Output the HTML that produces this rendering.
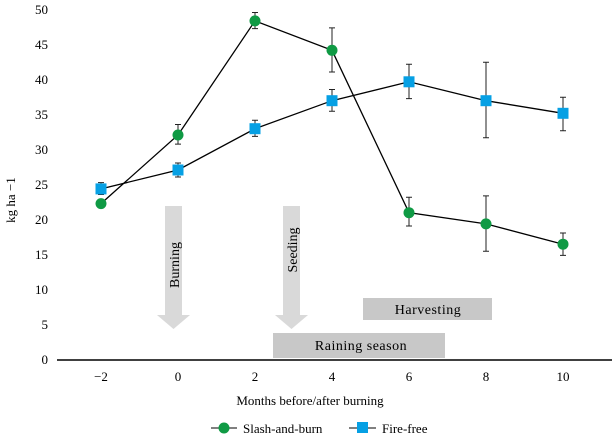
<!DOCTYPE html>
<html><head><meta charset="utf-8"><style>
body{margin:0;background:#fff}
svg{display:block;font-family:"Liberation Serif",serif}
</style></head><body>
<svg width="612" height="435" viewBox="0 0 612 435">
<g>
<polygon fill="#d9d9d9" points="165,206 182,206 182,315 190,315 173.5,329 157,315 165,315"/>
<text transform="translate(179,265) rotate(-90)" text-anchor="middle" font-size="14">Burning</text>
<polygon fill="#d9d9d9" points="283,206 300,206 300,315 308,315 291.5,329 275,315 283,315"/>
<text transform="translate(297,250) rotate(-90)" text-anchor="middle" font-size="14">Seeding</text>
<rect x="273" y="333" width="172" height="25" fill="#c8c8c8"/>
<text x="361" y="350" text-anchor="middle" font-size="14" letter-spacing="0.5">Raining season</text>
<rect x="363" y="298" width="129" height="22" fill="#c8c8c8"/>
<text x="428" y="314" text-anchor="middle" font-size="14" letter-spacing="0.5">Harvesting</text>
</g>
<g id="axes"></g>
<g id="plot"></g>
<text x="310" y="405" text-anchor="middle" font-size="13">Months before/after burning</text>
<text transform="translate(15,200) rotate(-90)" text-anchor="middle" font-size="13">kg ha <tspan>−1</tspan></text>
<g>
<line x1="211" y1="428" x2="237" y2="428" stroke="#000"/>
<circle cx="224" cy="428" r="5.5" fill="#0f9a44"/>
<text x="243" y="433" font-size="13">Slash-and-burn</text>
<line x1="349" y1="428" x2="376" y2="428" stroke="#000"/>
<rect x="357" y="422" width="11" height="11" fill="#06a0e4"/>
<text x="382" y="433" font-size="13">Fire-free</text>
</g>
</svg>
<script>
const months=[-2,0,2,4,6,8,10];
const slashVals=[22.2,32,48.3,44.1,20.9,19.3,16.4];
const slashLo=[22.2,30.7,47.2,41,19,15.4,14.8];
const slashHi=[22.2,33.5,49.5,47.3,23.1,23.3,18];
const fireVals=[24.3,27,32.9,36.9,39.6,36.9,35.1];
const fireLo=[23.5,26,31.8,35.4,37.2,31.6,32.6];
const fireHi=[25.2,28,34.1,38.5,42.1,42.4,37.4];
const yTicks=[0,5,10,15,20,25,30,35,40,45,50];
const xTicks=[-2,0,2,4,6,8,10];
const NS="http://www.w3.org/2000/svg";
const X=v=>178+v*38.5, Y=v=>359-v*7;
function mk(t,a,p){const e=document.createElementNS(NS,t);for(const k in a)e.setAttribute(k,a[k]);p.appendChild(e);return e;}
const ax=document.getElementById('axes'),pl=document.getElementById('plot');
const xl=mk('line',{x1:57,x2:612,y1:360,y2:360,stroke:'#000','stroke-width':1.5},ax);


yTicks.forEach(v=>{const t=mk('text',{x:48,y:Y(v)+5,'text-anchor':'end','font-size':13},ax);t.textContent=v;

});
xTicks.forEach(v=>{const t=mk('text',{x:X(v),y:381,'text-anchor':'middle','font-size':13},ax);t.textContent=v<0?'−'+(-v):v;

});
function series(vals,lo,hi,name,sq){
const g=mk('g',{},pl);


const ln=mk('polyline',{points:months.map((m,i)=>X(m)+','+Y(vals[i])).join(' '),fill:'none',stroke:'#000','stroke-width':1.3},g);


months.forEach((m,i)=>{const x=X(m);
if(hi[i]>lo[i]){const e=mk('path',{d:`M${x},${Y(lo[i])}V${Y(hi[i])}M${x-3},${Y(lo[i])}h6M${x-3},${Y(hi[i])}h6`,stroke:'#222','stroke-width':1,fill:'none'},g);

}
const p=sq?mk('rect',{x:x-5.5,y:Y(vals[i])-5.5,width:11,height:11,fill:'#06a0e4'},g):mk('circle',{cx:x,cy:Y(vals[i]),r:5.5,fill:'#0f9a44'},g);

});
}
series(slashVals,slashLo,slashHi,'slash-and-burn',false);
series(fireVals,fireLo,fireHi,'fire-free',true);
</script>
</body></html>
